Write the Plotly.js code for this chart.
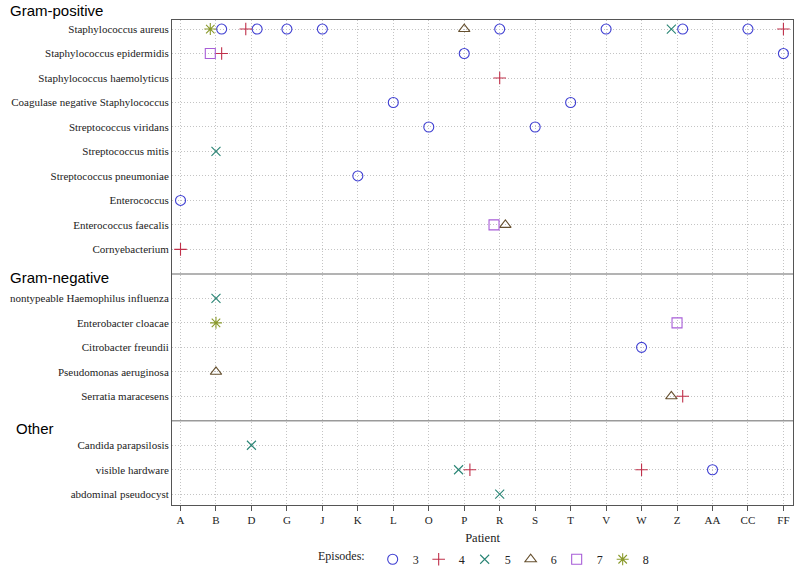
<!DOCTYPE html>
<html>
<head>
<meta charset="utf-8">
<script src="https://cdn.plot.ly/plotly-3.0.1.min.js"></script>
<style>html,body{margin:0;padding:0;background:#fff;}#chart{width:800px;height:573px;}</style>
</head>
<body>
<div id="chart"></div>
<script>
// ---- data ----
const patients = ['A','B','D','G','J','K','L','O','P','R','S','T','V','W','Z','AA','CC','FF'];

const gramPositive = ['Staphylococcus aureus','Staphylococcus epidermidis','Staphylococcus haemolyticus',
  'Coagulase negative Staphylococcus','Streptococcus viridans','Streptococcus mitis',
  'Streptococcus pneumoniae','Enterococcus','Enterococcus faecalis','Cornyebacterium'];
const gramNegative = ['nontypeable Haemophilus influenza','Enterobacter cloacae','Citrobacter freundii',
  'Pseudomonas aeruginosa','Serratia maracesens'];
const otherGroup = ['Candida parapsilosis','visible hardware','abdominal pseudocyst'];
const groupNames = ['Gram-positive','Gram-negative','Other'];

const episodeLevels = [3,4,5,6,7,8];

const ptPatient = [
  'B','B','D','D','G','J','P','R','V','Z','Z','CC','FF',
  'B','B','P','FF',
  'R',
  'L','T',
  'O','S',
  'B',
  'K',
  'A',
  'R','R',
  'A',
  'B',
  'B','Z',
  'W',
  'B',
  'Z','Z',
  'D',
  'P','P','W','AA',
  'R'
];
const ptOrganism = [
  'Staphylococcus aureus','Staphylococcus aureus','Staphylococcus aureus','Staphylococcus aureus',
  'Staphylococcus aureus','Staphylococcus aureus','Staphylococcus aureus','Staphylococcus aureus',
  'Staphylococcus aureus','Staphylococcus aureus','Staphylococcus aureus','Staphylococcus aureus',
  'Staphylococcus aureus',
  'Staphylococcus epidermidis','Staphylococcus epidermidis','Staphylococcus epidermidis','Staphylococcus epidermidis',
  'Staphylococcus haemolyticus',
  'Coagulase negative Staphylococcus','Coagulase negative Staphylococcus',
  'Streptococcus viridans','Streptococcus viridans',
  'Streptococcus mitis',
  'Streptococcus pneumoniae',
  'Enterococcus',
  'Enterococcus faecalis','Enterococcus faecalis',
  'Cornyebacterium',
  'nontypeable Haemophilus influenza',
  'Enterobacter cloacae','Enterobacter cloacae',
  'Citrobacter freundii',
  'Pseudomonas aeruginosa',
  'Serratia maracesens','Serratia maracesens',
  'Candida parapsilosis',
  'visible hardware','visible hardware','visible hardware','visible hardware',
  'abdominal pseudocyst'
];
const ptEpisodes = [
  8,3,4,3,3,3,6,3,3,5,3,3,4,
  7,4,3,3,
  4,
  3,3,
  3,3,
  5,
  3,
  3,
  7,6,
  4,
  5,
  8,7,
  3,
  6,
  6,4,
  5,
  5,4,4,3,
  5
];

// ---- build row positions (blank slot between groups) ----
const rowLabels = [];
const rowPos = {};
const sepPos = [];
let idx = 0;
[gramPositive, gramNegative, otherGroup].forEach((grp, gi) => {
  if (gi > 0) { sepPos.push(idx); idx++; }
  grp.forEach(o => { rowPos[o] = idx; rowLabels.push(o); idx++; });
});
const tickVals = rowLabels.map(o => rowPos[o]);

// dodge: points sharing a cell are spread, higher episode on the left
const cellMembers = {};
ptPatient.forEach((p, i) => {
  const k = p + '|' + ptOrganism[i];
  (cellMembers[k] = cellMembers[k] || []).push(i);
});
const xOff = new Array(ptPatient.length).fill(0);
const dodge = 0.16;
Object.values(cellMembers).forEach(m => {
  if (m.length < 2) return;
  m.sort((a, b) => ptEpisodes[b] - ptEpisodes[a]);
  m.forEach((i, j) => { xOff[i] = -dodge + j * (2 * dodge / (m.length - 1)); });
});

const styles = {
  3: {symbol: 'circle-open', color: '#3f3fd2', size: 10},
  4: {symbol: 'cross-thin-open', color: '#c0304a', size: 9},
  5: {symbol: 'x-thin-open', color: '#2a8575', size: 9},
  6: {symbol: 'triangle-up-open', color: '#66502f', size: 10},
  7: {symbol: 'square-open', color: '#a85ed8', size: 10},
  8: {symbol: 'asterisk-open', color: '#8a9a2c', size: 10}
};

const traces = episodeLevels.map(ep => {
  const xs = [], ys = [];
  ptEpisodes.forEach((e, i) => {
    if (e !== ep) return;
    xs.push(patients.indexOf(ptPatient[i]) + xOff[i]);
    ys.push(rowPos[ptOrganism[i]]);
  });
  return {
    type: 'scatter', mode: 'markers', x: xs, y: ys, name: String(ep),
    marker: {symbol: styles[ep].symbol, size: styles[ep].size, color: styles[ep].color,
             line: {color: styles[ep].color, width: 1.1}},
    cliponaxis: false
  };
});

const serif = 'Liberation Serif, Times New Roman, serif';
const sans = 'Liberation Sans, Arial, sans-serif';

const shapes = sepPos.map(s => ({
  type: 'line', xref: 'paper', x0: 0, x1: 1, yref: 'y', y0: s, y1: s,
  line: {color: '#9a9a9a', width: 1.5}
}));

const annX = [-0.264, -0.264, -0.254];
const annY = [1.0186, 0.470, 0.157];
const annotations = groupNames.map((g, i) => ({
  text: g, xref: 'paper', x: annX[i], xanchor: 'left', yref: 'paper', y: annY[i], yanchor: 'middle',
  showarrow: false, font: {family: sans, size: 15, color: '#000'}
}));

const layout = {
  width: 800, height: 573,
  margin: {l: 172, r: 7, t: 20, b: 68},
  paper_bgcolor: '#fff', plot_bgcolor: '#fff',
  font: {family: serif, color: '#222'},
  showlegend: true,
  legend: {
    orientation: 'h', x: 0.5, xanchor: 'center', xref: 'paper',
    y: 0.024, yanchor: 'middle', yref: 'container',
    title: {text: 'Episodes:', side: 'left', font: {family: serif, size: 12, color: '#222'}},
    font: {family: serif, size: 12, color: '#222'},
    itemwidth: 30, tracegroupgap: 0,
    entrywidth: 1, entrywidthmode: 'pixels'
  },
  xaxis: {
    range: [-0.24, 17.27], automargin: false,
    tickmode: 'array', tickvals: patients.map((p, i) => i), ticktext: patients,
    showgrid: true, gridcolor: '#c4c4c4', griddash: '1px,2px', gridwidth: 1,
    zeroline: false, showline: true, mirror: true, linecolor: '#555', linewidth: 1,
    ticks: 'outside', ticklen: 5, tickcolor: '#555',
    tickfont: {family: serif, size: 11, color: '#222'},
    title: {text: 'Patient', font: {family: serif, size: 12.5, color: '#222'}, standoff: 9}
  },
  yaxis: {
    range: [19.44, -0.37], automargin: false,
    tickmode: 'array', tickvals: tickVals, ticktext: rowLabels,
    showgrid: true, gridcolor: '#c4c4c4', griddash: '1px,2px', gridwidth: 1,
    zeroline: false, showline: true, mirror: true, linecolor: '#555', linewidth: 1,
    ticks: '', tickfont: {family: serif, size: 11, color: '#222'}
  },
  shapes: shapes,
  annotations: annotations
};

Plotly.newPlot('chart', traces, layout, {staticPlot: true});
</script>
</body>
</html>
